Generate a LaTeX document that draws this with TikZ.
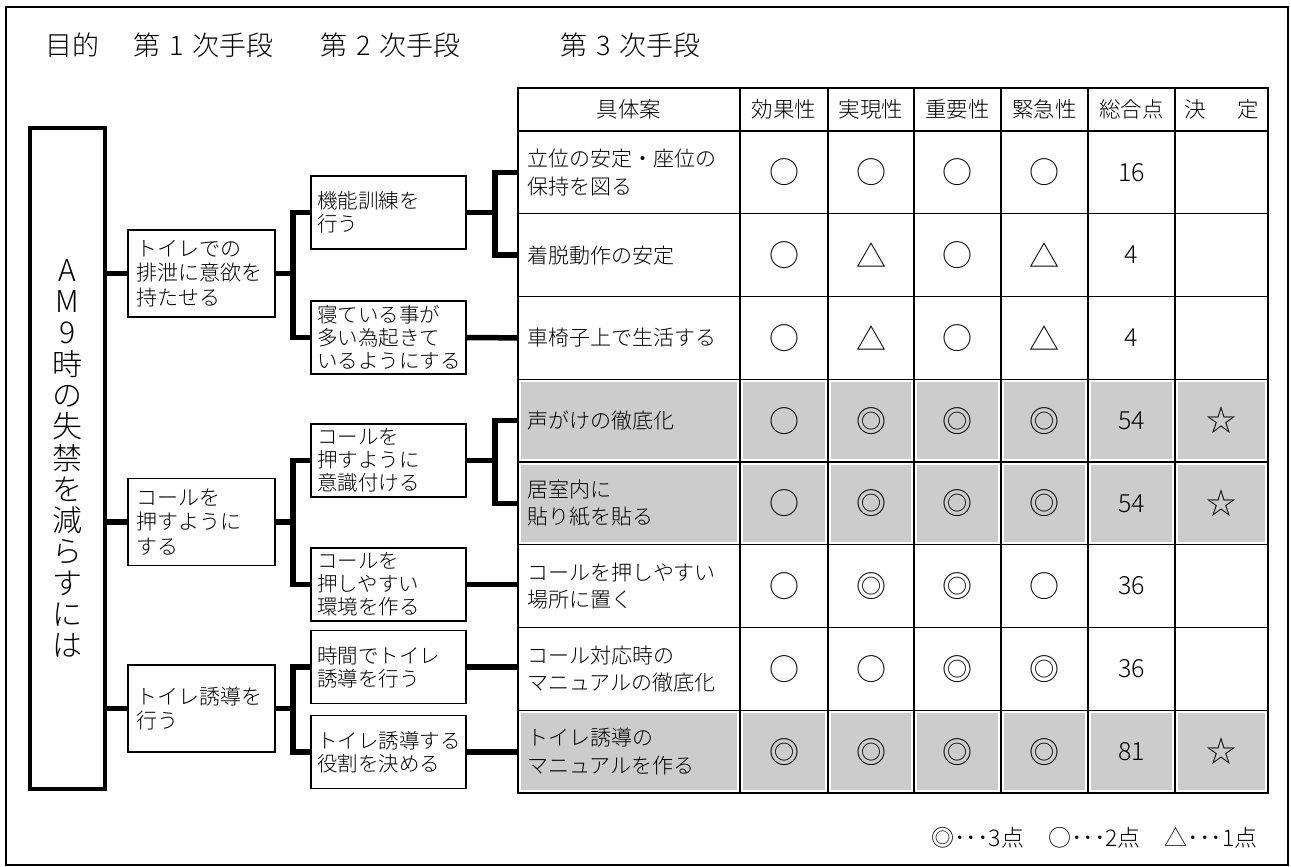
\documentclass[tikz,border=0pt]{standalone}
\usepackage{fontspec}
\setmainfont{Noto Sans CJK JP}[UprightFont={* Light}]
\begin{document}
\begin{tikzpicture}[x=1pt,y=-1pt,
  frame/.style={line width=1.5pt},
  goalbox/.style={draw, line width=3.5pt, minimum width=75pt, minimum height=661pt, inner sep=0pt, align=center, font=\fontsize{30}{31.3}\selectfont},
  lonebox/.style={draw, line width=1.6pt, minimum width=147pt, minimum height=87pt, text width=131pt, inner xsep=8pt, inner ysep=0pt, align=left, font=\fontsize{21}{24.5}\selectfont},
  ltwobox/.style={draw, line width=1.6pt, minimum width=155pt, minimum height=73pt, text width=143pt, inner xsep=6pt, inner ysep=0pt, align=left, font=\fontsize{20.5}{23}\selectfont},
  link/.style={line width=5.5pt},
  tline/.style={line width=1.4pt},
  tframe/.style={line width=2pt},
  shadecell/.style={fill=black!20},
  cell/.style={anchor=west, inner xsep=9pt, inner ysep=0pt, text width=204pt, align=left, font=\fontsize{21}{27.5}\selectfont},
  hd/.style={inner sep=0pt, font=\fontsize{21.5}{25}\selectfont},
  sym/.style={inner sep=0pt, font=\fontsize{30}{30}\selectfont},
  num/.style={inner sep=0pt, font=\fontsize{25}{25}\selectfont},
  ttl/.style={anchor=west, inner sep=0pt, font=\fontsize{27}{30}\selectfont},
  lgd/.style={anchor=east, inner sep=0pt, font=\fontsize{23}{24}\selectfont}]
\useasboundingbox (0,0) rectangle (1291,867);
% outer frame
\draw[frame] (6,7) rectangle (1288,865);
% titles
\node[ttl] (t0) at (45,45) {目的};
\node[ttl] (t1) at (133,45) {第\hspace{9pt}1\hspace{9pt}次手段};
\node[ttl] (t2) at (320,45) {第\hspace{9pt}2\hspace{9pt}次手段};
\node[ttl] (t3) at (560,45) {第\hspace{9pt}3\hspace{9pt}次手段};
% shaded cells
\foreach \a/\b in {518/740,740/828,828/914,914/1001,1001/1088,1088/1175,1175/1268}{
  \foreach \t/\u in {379.25/462,462/544.75,710.25/793}{
    \fill[shadecell] (\a+3,\t+3) rectangle (\b-3,\u-3);
  }
}
% table grid
\foreach \y in {131,213.75,296.5,379.25,462,544.75,627.5,710.25}
  \draw[tline] (518,\y) -- (1268,\y);
\foreach \x in {740,828,914,1001,1088,1175}
  \draw[tline] (\x,88) -- (\x,793);
\draw[tframe] (518,88) rectangle (1268,793);
% header
\node[hd] (h0) at (629,109.5) {具体案};
\node[hd] (h1) at (784,109.5) {効果性};
\node[hd] (h2) at (871,109.5) {実現性};
\node[hd] (h3) at (957.5,109.5) {重要性};
\node[hd] (h4) at (1044.5,109.5) {緊急性};
\node[hd] (h5) at (1131.5,109.5) {総合点};
\node[hd] (h6) at (1221.5,109.5) {決\hspace{32pt}定};
% rows
\foreach \i/\yy/\txt/\sa/\sb/\sc/\sd/\n/\k in {
  1/172.4/{立位の安定・座位の\\保持を図る}/○/○/○/○/16/{},
  2/255.1/{着脱動作の安定}/○/△/○/△/4/{},
  3/337.9/{車椅子上で生活する}/○/△/○/△/4/{},
  4/420.6/{声がけの徹底化}/○/◎/◎/◎/54/☆,
  5/503.4/{居室内に\\貼り紙を貼る}/○/◎/◎/◎/54/☆,
  6/586.1/{コールを押しやすい\\場所に置く}/○/◎/◎/○/36/{},
  7/668.9/{コール対応時の\\マニュアルの徹底化}/○/○/◎/◎/36/{},
  8/751.6/{トイレ誘導の\\マニュアルを作る}/◎/◎/◎/◎/81/☆}{
  \node[cell] (r\i) at (518,\yy) {\txt};
  \node[sym] (a\i) at (784,\yy) {\sa};
  \node[sym] (b\i) at (871,\yy) {\sb};
  \node[sym] (c\i) at (957.5,\yy) {\sc};
  \node[sym] (d\i) at (1044.5,\yy) {\sd};
  \node[num] (n\i) at (1131.5,\yy) {\n};
  \node[sym] (k\i) at (1221.5,\yy) {\k};
}
% goal box
\node[goalbox] (goal) at (67.5,458.5) {A\\M\\9\\時\\の\\失\\禁\\を\\減\\ら\\す\\に\\は};
% first level
\node[lonebox] (La) at (201.5,273.5) {トイレでの\\排泄に意欲を\\持たせる};
\node[lonebox] (Lb) at (201.5,522) {コールを\\押すように\\する};
\node[lonebox] (Lc) at (201.5,708.5) {トイレ誘導を\\行う};
% second level
\node[ltwobox] (Ma) at (388.5,212.5) {機能訓練を\\行う};
\node[ltwobox] (Mb) at (388.5,337.5) {寝ている事が\\多い為起きて\\いるようにする};
\node[ltwobox] (Mc) at (388.5,460.5) {コールを\\押すように\\意識付ける};
\node[ltwobox] (Md) at (388.5,584.5) {コールを\\押しやすい\\環境を作る};
\node[ltwobox] (Me) at (388.5,667) {時間でトイレ\\誘導を行う};
\node[ltwobox] (Mf) at (388.5,752) {トイレ誘導する\\役割を決める};
% connectors goal -> first level
\draw[link] (goal.east |- La.west) -- (La.west);
\draw[link] (goal.east |- Lb.west) -- (Lb.west);
\draw[link] (goal.east |- Lc.west) -- (Lc.west);
% first -> second
\draw[link] (La.east) -- ++(17,0) |- (Ma.west);
\draw[link] (La.east) -- ++(17,0) |- (Mb.west);
\draw[link] (Lb.east) -- ++(17,0) |- (Mc.west);
\draw[link] (Lb.east) -- ++(17,0) |- (Md.west);
\draw[link] (Lc.east) -- ++(17,0) |- (Me.west);
\draw[link] (Lc.east) -- ++(17,0) |- (Mf.west);
% second -> table rows
\draw[link] (Ma.east) -- ++(28,0) |- (r1.west);
\draw[link] (Ma.east) -- ++(28,0) |- (r2.west);
\draw[link] (Mb.east) -- (r3.west);
\draw[link] (Mc.east) -- ++(28,0) |- (r4.west);
\draw[link] (Mc.east) -- ++(28,0) |- (r5.west);
\draw[link] (Md.east) -- (r6.west |- Md.east);
\draw[link] (Me.east) -- (r7.west |- Me.east);
\draw[link] (Mf.east) -- (r8.west |- Mf.east);
% legend
\node[lgd] (lg) at (1258,838) {◎･･･3点\hspace{24pt}○･･･2点\hspace{24pt}△･･･1点};
\end{tikzpicture}
\end{document}
